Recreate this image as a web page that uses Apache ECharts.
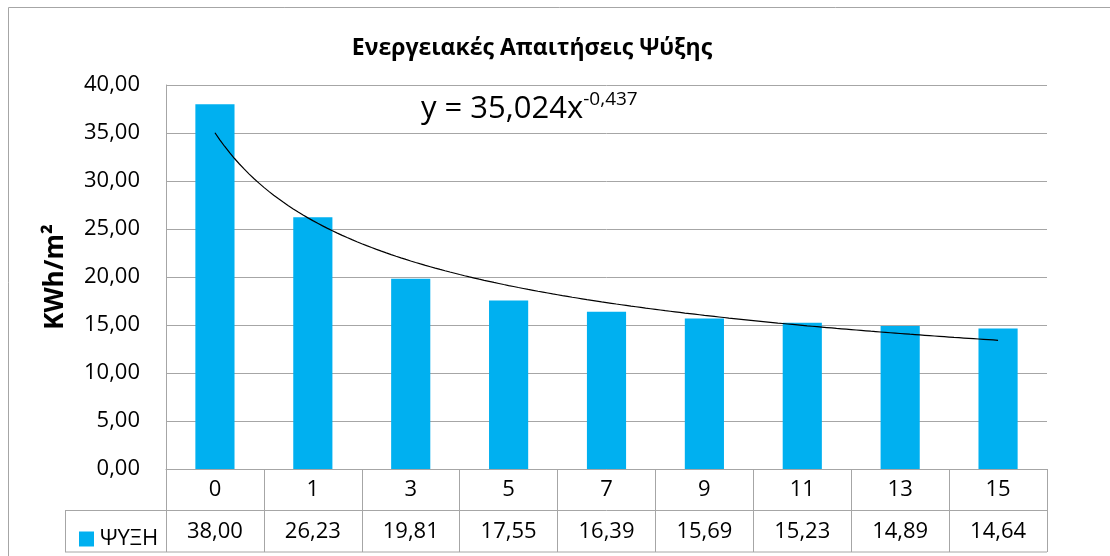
<!DOCTYPE html>
<html>
<head>
<meta charset="utf-8">
<script src="https://cdn.jsdelivr.net/npm/echarts@6/dist/echarts.min.js"></script>
<style>
  html, body { margin: 0; padding: 0; background: #fff; }
  #chart { width: 1110px; height: 556px; }
</style>
</head>
<body>
<div id="chart"></div>
<script>
// Cooling energy demand per category
const categories = ['0', '1', '3', '5', '7', '9', '11', '13', '15'];
const cooling = [38.00, 26.23, 19.81, 17.55, 16.39, 15.69, 15.23, 14.89, 14.64];
const seriesName = 'ΨΥΞΗ';
const yTicks = { min: 0, max: 40, step: 5 };
// Power trendline y = a * x^b over category positions 1..n
const TREND_A = 35.024;
const TREND_B = -0.437;

const FONT = "'Open Sans', 'Liberation Sans', sans-serif";
const GRID = '#a6a6a6';
const BAR = '#00b0f0';
const fmt = v => v.toFixed(2).replace('.', ',');
const fmt3 = v => String(v).replace('.', ',');

const trend = [];
for (let x = 1; x <= categories.length + 1e-9; x += 0.05) {
  trend.push([x, TREND_A * Math.pow(x, TREND_B)]);
}

const grid = { left: 166, top: 85, right: 63, bottom: 87 };
const plotL = grid.left, plotR = 1110 - grid.right, axisY = 556 - grid.bottom;
const rowH = 41.5;
const tableL = 65;

const chart = echarts.init(document.getElementById('chart'), null, { renderer: 'canvas' });
chart.setOption({
  animation: false,
  textStyle: { fontFamily: FONT },
  title: {
    text: 'Ενεργειακές Απαιτήσεις Ψύξης',
    left: 527, top: 32, textAlign: 'center',
    textStyle: { fontFamily: FONT, fontWeight: 'bold', fontSize: 23, color: '#000' }
  },
  legend: {
    left: 74, top: 523, itemWidth: 15, itemHeight: 15, itemGap: 0,
    icon: 'rect', selectedMode: false,
    data: [seriesName],
    textStyle: { fontFamily: FONT, fontSize: 22, color: '#000', padding: [0, 0, 0, 1] }
  },
  grid: grid,
  xAxis: [
    {
      type: 'category', data: categories,
      axisLine: { show: true, lineStyle: { color: GRID, width: 1 } },
      axisTick: { show: true, length: rowH * 2, lineStyle: { color: GRID } },
      axisLabel: { fontSize: 22, color: '#000', margin: 21, verticalAlign: 'middle', fontFamily: FONT }
    },
    {
      type: 'category', data: cooling.map(fmt), position: 'bottom', offset: rowH,
      axisLine: { show: true, lineStyle: { color: GRID, width: 1 } },
      axisTick: { show: false },
      axisLabel: { fontSize: 22, color: '#000', margin: 21, verticalAlign: 'middle', fontFamily: FONT }
    },
    {
      type: 'value', min: 0.5, max: categories.length + 0.5, show: false
    }
  ],
  yAxis: {
    type: 'value', min: yTicks.min, max: yTicks.max, interval: yTicks.step,
    name: 'KWh/m²', nameLocation: 'middle', nameGap: 97, nameRotate: 90,
    nameTextStyle: { fontFamily: FONT, fontWeight: 'bold', fontSize: 26, color: '#000' },
    axisLine: { show: true, lineStyle: { color: GRID, width: 1 } },
    axisTick: { show: false },
    splitLine: { lineStyle: { color: GRID, width: 1 } },
    axisLabel: { fontSize: 22, color: '#000', margin: 26, formatter: fmt, fontFamily: FONT }
  },
  series: [
    {
      name: seriesName, type: 'bar', xAxisIndex: 0, data: cooling,
      barWidth: '40%', itemStyle: { color: BAR }, z: 2
    },
    {
      name: 'trend', type: 'line', xAxisIndex: 2, data: trend,
      showSymbol: false, symbol: 'none', silent: true,
      lineStyle: { color: '#000', width: 1.2 }, z: 3
    }
  ],
  graphic: [
    // outer chart frame
    { type: 'rect', shape: { x: 8.5, y: 7.5, width: 1200, height: 700 },
      style: { fill: null, stroke: '#a6a6a6', lineWidth: 1 }, silent: true },
    // data table: legend cell and bottom rule
    { type: 'line', shape: { x1: tableL, y1: axisY + rowH, x2: plotL, y2: axisY + rowH },
      style: { stroke: GRID, lineWidth: 1 } },
    { type: 'line', shape: { x1: tableL, y1: axisY + rowH * 2, x2: plotR, y2: axisY + rowH * 2 },
      style: { stroke: GRID, lineWidth: 1 } },
    { type: 'line', shape: { x1: tableL + 0.5, y1: axisY + rowH, x2: tableL + 0.5, y2: axisY + rowH * 2 },
      style: { stroke: GRID, lineWidth: 1 } },
    // trendline equation
    { type: 'text', left: 421, top: 90, z: 10,
      style: {
        text: '{m|y = ' + fmt3(TREND_A) + 'x}{s|' + fmt3(TREND_B) + '}',
        rich: {
          m: { fontFamily: FONT, fontSize: 31, fill: '#000', lineHeight: 38 },
          s: { fontFamily: FONT, fontSize: 19, fill: '#000', verticalAlign: 'top', lineHeight: 38 }
        }
      } }
  ]
});
</script>
</body>
</html>
